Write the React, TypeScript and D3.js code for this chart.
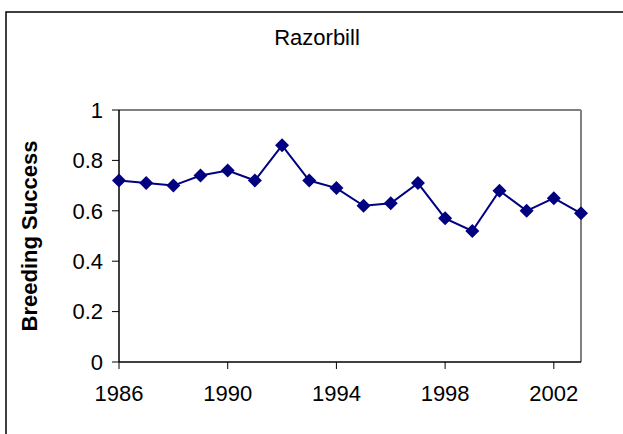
import React from "react";
import * as d3 from "d3";

// values
const years = [1986, 1987, 1988, 1989, 1990, 1991, 1992, 1993, 1994, 1995, 1996, 1997, 1998, 1999, 2000, 2001, 2002, 2003];
const success = [0.72, 0.71, 0.7, 0.74, 0.76, 0.72, 0.86, 0.72, 0.69, 0.62, 0.63, 0.71, 0.57, 0.52, 0.68, 0.6, 0.65, 0.59];
const xTicks = [1986, 1990, 1994, 1998, 2002];
const yTicks = [0, 0.2, 0.4, 0.6, 0.8, 1];

const W = 623, H = 434;
const margin = { left: 119, right: 42, top: 110, bottom: 72 };
const font = "Liberation Sans, Arial, sans-serif";
const navy = "#000080";

export default function App() {
  const x = d3.scaleLinear().domain([1986, 2003]).range([margin.left, W - margin.right]);
  const y = d3.scaleLinear().domain([0, 1]).range([H - margin.bottom, margin.top]);

  const line = d3.line<number>()
    .x((d, i) => x(years[i]))
    .y(d => y(d));

  const diamond = d3.symbol(d3.symbolSquare, 98)();

  const x0 = x.range()[0], x1 = x.range()[1];
  const y0 = y.range()[0], y1 = y.range()[1];

  return (
    <svg width={W} height={H} style={{ position: "absolute", left: 0, top: 0, background: "#fff" }} fontFamily={font}>
      {/* outer chart border, runs off the right and bottom */}
      <rect x={6} y={12} width={W + 20} height={H + 20} fill="none" stroke="#000" strokeWidth={1.5} />

      <text x={317} y={45} textAnchor="middle" fontSize={22}>Razorbill</text>

      {/* plot area frame */}
      <line x1={x0} x2={x1} y1={y1} y2={y1} stroke="#808080" strokeWidth={2} />
      <line x1={x1} x2={x1} y1={y1} y2={y0} stroke="#808080" strokeWidth={2} />
      <line x1={x0} x2={x0} y1={y1} y2={y0} stroke="#000" strokeWidth={1.5} />
      <line x1={x0} x2={x1} y1={y0} y2={y0} stroke="#000" strokeWidth={1.5} />

      {yTicks.map(t => (
        <g key={t}>
          <line x1={x0 - 7} x2={x0} y1={y(t)} y2={y(t)} stroke="#000" strokeWidth={1} />
          <text x={x0 - 16} y={y(t)} dy="0.35em" textAnchor="end" fontSize={22}>{t}</text>
        </g>
      ))}

      {xTicks.map(t => (
        <g key={t}>
          <line x1={x(t)} x2={x(t)} y1={y0} y2={y0 + 7} stroke="#000" strokeWidth={1} />
          <text x={x(t)} y={y0 + 39} textAnchor="middle" fontSize={22}>{t}</text>
        </g>
      ))}

      <text transform={`translate(37, ${(y0 + y1) / 2}) rotate(-90)`} textAnchor="middle" fontSize={22} fontWeight="bold">
        Breeding Success
      </text>

      <path d={line(success) || ""} fill="none" stroke={navy} strokeWidth={2} />
      {success.map((v, i) => (
        <path key={years[i]} d={diamond || ""} transform={`translate(${x(years[i])}, ${y(v)}) rotate(45)`} fill={navy} />
      ))}
    </svg>
  );
}
